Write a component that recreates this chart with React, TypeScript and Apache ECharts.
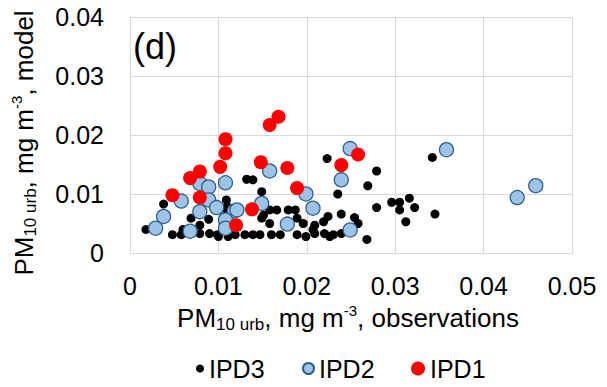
import React, { useEffect, useRef } from "react";
import * as echarts from "echarts";

const FONT = "'Liberation Sans', Arial, sans-serif";

const xTicks = [0, 0.01, 0.02, 0.03, 0.04, 0.05];
const yTicks = [0, 0.01, 0.02, 0.03, 0.04];
const seriesNames = ["IPD3", "IPD2", "IPD1"];

const ipd3: number[][] = [
  [0.0018, 0.004], [0.0038, 0.0083], [0.0048, 0.0031], [0.0058, 0.0031],
  [0.006, 0.004], [0.0069, 0.0059], [0.0079, 0.0047], [0.0079, 0.0033],
  [0.0089, 0.0057], [0.009, 0.0033], [0.0099, 0.0031], [0.01, 0.0028],
  [0.0108, 0.0075], [0.011, 0.0079], [0.0109, 0.009], [0.0111, 0.0028],
  [0.0119, 0.0031], [0.013, 0.0031], [0.0132, 0.0125], [0.0139, 0.0124],
  [0.0149, 0.0104], [0.0139, 0.0031], [0.0147, 0.0031], [0.0151, 0.0064],
  [0.0158, 0.005], [0.016, 0.0031], [0.0158, 0.0073], [0.0166, 0.0073],
  [0.017, 0.0031], [0.0149, 0.0059], [0.0179, 0.0073], [0.0187, 0.0073],
  [0.0189, 0.0059], [0.0196, 0.005], [0.0189, 0.0031], [0.0199, 0.0028],
  [0.0209, 0.0047], [0.0209, 0.0033], [0.0207, 0.004], [0.0219, 0.0053],
  [0.0224, 0.0062], [0.0223, 0.016], [0.022, 0.0033], [0.0226, 0.0028],
  [0.023, 0.0031], [0.0235, 0.01], [0.0239, 0.0066], [0.0239, 0.0033],
  [0.0254, 0.006], [0.0258, 0.005], [0.0268, 0.0023], [0.0269, 0.0114],
  [0.0279, 0.0139], [0.0279, 0.0077], [0.0296, 0.0086], [0.0305, 0.0086],
  [0.0305, 0.0073], [0.0312, 0.0053], [0.0316, 0.0093], [0.0322, 0.0077],
  [0.0345, 0.0066], [0.0342, 0.0162],
];

const ipd2: number[][] = [
  [0.0029, 0.0042], [0.0038, 0.0062], [0.0058, 0.0088], [0.0068, 0.0037],
  [0.0079, 0.0118], [0.0089, 0.0112], [0.0079, 0.007], [0.0089, 0.009],
  [0.0098, 0.0077], [0.0108, 0.0119], [0.0118, 0.0071], [0.0108, 0.0056],
  [0.0108, 0.0042], [0.0121, 0.0073], [0.0149, 0.0084], [0.0158, 0.0139],
  [0.0178, 0.0049], [0.0199, 0.01], [0.0207, 0.0076], [0.0239, 0.0124],
  [0.0249, 0.0177], [0.0249, 0.0039], [0.0358, 0.0175], [0.0438, 0.0094],
  [0.0459, 0.0114],
];

const ipd1: number[][] = [
  [0.0048, 0.0098], [0.0068, 0.0127], [0.0079, 0.0138], [0.0079, 0.0094],
  [0.0102, 0.0146], [0.0108, 0.0169], [0.0108, 0.0193], [0.012, 0.0047],
  [0.0138, 0.0074], [0.0148, 0.0154], [0.0158, 0.0217], [0.0168, 0.0231],
  [0.0178, 0.0144], [0.0189, 0.011], [0.0239, 0.0149], [0.0258, 0.0167],
];

const fmt = (v: number) => (Math.abs(v) < 1e-9 ? "0" : v.toFixed(2));

export default function App() {
  const ref = useRef<HTMLDivElement>(null);
  useEffect(() => {
    document.body.style.margin = "0";
    const chart = echarts.init(ref.current!, undefined, { renderer: "svg" });
    const gridColor = "#D9D9D9";
    const legendBase = {
      orient: "horizontal" as const,
      top: 356,
      textStyle: { fontSize: 25, fontFamily: FONT, color: "#000" },
      icon: "circle",
      padding: 0,
    };
    const richTitle = {
      a: { fontSize: 26, lineHeight: 30, fontFamily: FONT, fill: "#000" },
      b: { fontSize: 17, lineHeight: 17, fontFamily: FONT, verticalAlign: "bottom", fill: "#000" },
      c: { fontSize: 15, lineHeight: 15, fontFamily: FONT, verticalAlign: "top", fill: "#000" },
    };
    chart.setOption({
      animation: false,
      backgroundColor: "#fff",
      grid: { left: 130, right: 35, top: 17, bottom: 134 },
      xAxis: {
        type: "value",
        min: xTicks[0],
        max: xTicks[xTicks.length - 1],
        interval: 0.01,
        axisLine: { show: true, lineStyle: { color: gridColor } },
        axisTick: { show: false },
        splitLine: { show: true, lineStyle: { color: gridColor, width: 1 } },
        axisLabel: { fontSize: 25, fontFamily: FONT, color: "#000", margin: 20, formatter: fmt },
      },
      yAxis: {
        type: "value",
        min: yTicks[0],
        max: yTicks[yTicks.length - 1],
        interval: 0.01,
        axisLine: { show: true, lineStyle: { color: gridColor } },
        axisTick: { show: false },
        splitLine: { show: true, lineStyle: { color: gridColor, width: 1 } },
        axisLabel: { fontSize: 25, fontFamily: FONT, color: "#000", margin: 26, formatter: fmt },
      },
      legend: [
        { ...legendBase, left: 196, itemWidth: 8, itemHeight: 8, data: [seriesNames[0]] },
        { ...legendBase, left: 302, itemWidth: 11, itemHeight: 11, data: [seriesNames[1]] },
        { ...legendBase, left: 411, itemWidth: 14, itemHeight: 14, data: [seriesNames[2]] },
      ],
      series: [
        {
          name: seriesNames[0],
          type: "scatter",
          data: ipd3,
          symbol: "circle",
          symbolSize: 9,
          itemStyle: { color: "#000000", opacity: 1 },
        },
        {
          name: seriesNames[1],
          type: "scatter",
          data: ipd2,
          symbol: "circle",
          symbolSize: 14,
          itemStyle: { color: "#9DC3E6", borderColor: "#2E5F8C", borderWidth: 1.3, opacity: 1 },
        },
        {
          name: seriesNames[2],
          type: "scatter",
          data: ipd1,
          symbol: "circle",
          symbolSize: 14,
          itemStyle: { color: "#FF0000", opacity: 1 },
        },
      ],
      graphic: [
        {
          type: "text",
          x: 133,
          y: 46,
          style: {
            text: "(d)",
            fontSize: 36,
            fontFamily: FONT,
            fill: "#000",
            align: "left",
            verticalAlign: "middle",
          },
        },
        {
          type: "text",
          x: 348,
          y: 318,
          style: {
            text: "{a|PM}{b|10 urb}{a|, mg m}{c|-3}{a|, observations}",
            align: "center",
            verticalAlign: "middle",
            fill: "#000",
            rich: richTitle,
          },
        },
        {
          type: "text",
          x: 24,
          y: 143,
          rotation: Math.PI / 2,
          style: {
            text: "{a|PM}{b|10 urb}{a|, mg m}{c|-3}{a|, model}",
            align: "center",
            verticalAlign: "middle",
            fill: "#000",
            rich: richTitle,
          },
        },
      ],
    });
    return () => chart.dispose();
  }, []);
  return (
    <div
      ref={ref}
      style={{ position: "fixed", left: 0, top: 0, width: 607, height: 387 }}
    />
  );
}
